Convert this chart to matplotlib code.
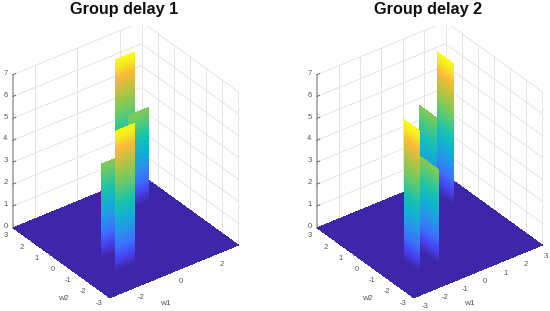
import matplotlib
matplotlib.use("Agg")
import matplotlib.pyplot as plt
from matplotlib.colors import LinearSegmentedColormap
from mpl_toolkits.mplot3d import proj3d
import numpy as np

plt.rcParams["font.family"] = ["Liberation Sans", "DejaVu Sans"]

titles = ["Group delay 1", "Group delay 2"]
w1_ticks = [[-2, 0, 2], [-3, -2, -1, 0, 1, 2, 3]]
w2_ticks = [-3, -2, -1, 0, 1, 2, 3]
z_ticks = [0, 1, 2, 3, 4, 5, 6, 7]

# ridges, back to front: w1 start, w1 end, w2 start, w2 end, height
ridges_1 = [
    (1.15, 2.05, 2.16, 2.16, 6.45),
    (1.20, 2.10, 1.39, 1.39, 4.30),
    (-1.60, -0.70, -0.65, -0.65, 4.30),
    (-1.80, -0.90, -1.74, -1.74, 6.45),
]
ridges_2 = [
    (2.00, 2.00, 1.20, 2.20, 6.45),
    (1.21, 1.21, 1.20, 2.21, 4.30),
    (-0.87, -0.87, -1.70, -0.60, 4.30),
    (-1.78, -1.78, -1.70, -0.77, 6.45),
]
z_max = 6.45

# MATLAB parula, green pulled up a bit to match the shorter ridges
parula = LinearSegmentedColormap.from_list("parula", [
    (0.00, "#3e26a8"), (0.09, "#4743f0"), (0.18, "#3a72fb"), (0.28, "#2795e8"),
    (0.38, "#12b1d0"), (0.48, "#1ac2ac"), (0.60, "#5fc96f"), (0.68, "#8cc850"),
    (0.78, "#c8c040"), (0.87, "#fdb938"), (0.94, "#f6e620"), (1.00, "#f9fb15"),
])

FLOOR = "#3e26a8"
GRID = "#e4e4e4"
TICK = "#555555"
AXIS = "#a8a8a8"


def label(ax, x, y, z, s, size=5.5):
    # project by hand so the text is plain 2D text on the axes
    px, py, _ = proj3d.proj_transform(x, y, z, ax.get_proj())
    ax.annotate(s, (px, py), fontsize=size, color=TICK, ha="center", va="center",
                annotation_clip=False, zorder=10)


def draw_panel(rect, title, w1t, ridges, title_x):
    ax = fig.add_axes(rect, projection="3d", computed_zorder=False)
    ax.set_proj_type("ortho")
    ax.view_init(elev=33, azim=-127)
    ax.set_xlim(-3, 3)
    ax.set_ylim(-3, 3)
    ax.set_zlim(0, 7)
    ax.set_box_aspect((1, 1, 1.137), zoom=1.03)
    ax.set_axis_off()

    # grid on the two back walls
    for z in z_ticks:
        ax.plot([-3, 3, 3], [3, 3, -3], [z, z, z], color=GRID, lw=0.7, zorder=1)
    for w in w1t:
        if w > -3 and w < 3:
            ax.plot([w, w], [3, 3], [0, 7], color=GRID, lw=0.7, zorder=1)
    for w in w2_ticks:
        if w > -3 and w < 3:
            ax.plot([3, 3], [w, w], [0, 7], color=GRID, lw=0.7, zorder=1)
    ax.plot([3, 3], [3, 3], [0, 7], color=GRID, lw=0.7, zorder=1)
    ax.plot([3, 3], [-3, -3], [0, 7], color=GRID, lw=0.7, zorder=1)

    # z axis
    ax.plot([-3, -3], [3, 3], [0, 7], color=AXIS, lw=1.3, zorder=2)
    for z in z_ticks:
        ax.plot([-3, -2.88], [3, 3], [z, z], color=TICK, lw=0.6, zorder=2)
        label(ax, -3.36, 3, z + 0.2, str(z))

    # floor
    ax.plot_surface(np.array([[-3, 3], [-3, 3]]), np.array([[-3, -3], [3, 3]]),
                    np.zeros((2, 2)), color=FLOOR, shade=False, linewidth=0,
                    antialiased=False, zorder=3)

    # ridges, coloured by height
    for i, (x0, x1, y0, y1, h) in enumerate(ridges):
        levels = np.linspace(0, h, 90)
        X = np.array([[x0, x1]] * len(levels))
        Y = np.array([[y0, y1]] * len(levels))
        Z = np.column_stack([levels, levels])
        ax.plot_surface(X, Y, Z, facecolors=parula(Z / z_max), shade=False,
                        rstride=1, cstride=1, linewidth=0, antialiased=False,
                        zorder=4 + i)

    # tick labels sit a little tighter than the ticks themselves
    for w in w1t:
        label(ax, 0.94 * w - 0.2, -3.7, 0, str(w))
    for w in w2_ticks:
        label(ax, -3.5, 0.96 * w - 0.1, -0.05, str(w))
    label(ax, -1.56, -4.54, 0, "w1", 6)
    label(ax, -4.43, -2.0, 0, "w2", 6)

    fig.text(title_x, 0.969, title, fontsize=11.7, fontweight="bold",
             color="#111111", ha="center", va="center")


fig = plt.figure(figsize=(5.5, 3.11), dpi=100)
fig.patch.set_facecolor("white")
draw_panel([-15.5 / 550, -8 / 311, 0.5, 1.0], titles[0], w1_ticks[0], ridges_1, 124.5 / 550)
draw_panel([288.5 / 550, -8 / 311, 0.5, 1.0], titles[1], w1_ticks[1], ridges_2, 428 / 550)
fig.savefig("out.png", dpi=100)
